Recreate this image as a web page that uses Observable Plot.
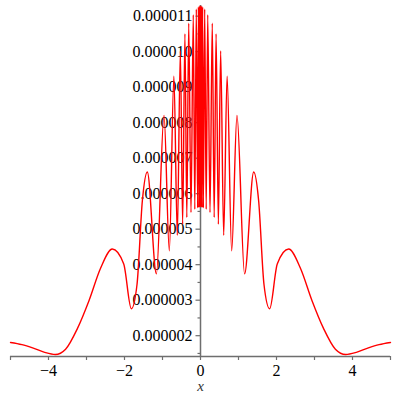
<!DOCTYPE html>
<html>
<head>
<meta charset="utf-8">
<script src="https://cdn.jsdelivr.net/npm/d3@7"></script>
<script src="https://cdn.jsdelivr.net/npm/@observablehq/plot@0.6"></script>
<style>
  html, body { margin: 0; padding: 0; background: #ffffff; }
</style>
</head>
<body>
<div id="chart"></div>
<script>
// Curve points (x, value)
const xValues = [
  -5.00, -4.70, -4.40, -4.10, -3.82, -3.55, -3.24, -2.93, -2.63, -2.32,
  -2.02, -1.82, -1.67, -1.53, -1.40, -1.16, -0.96, -0.82, -0.70, -0.61,
  -0.53, -0.47, -0.41, -0.36, -0.31, -0.25, -0.19, -0.15, -0.11, -0.075,
  -0.055, -0.04, -0.027, -0.015, 0,
  0.015, 0.027, 0.04, 0.055, 0.075, 0.11, 0.15, 0.19, 0.25, 0.31,
  0.36, 0.41, 0.47, 0.53, 0.61, 0.70, 0.82, 0.96, 1.16, 1.40,
  1.53, 1.67, 1.82, 2.02, 2.32, 2.63, 2.93, 3.24, 3.55, 3.82,
  4.10, 4.40, 4.70, 5.00
];
const yValues = [
  1.81e-6, 1.75e-6, 1.65e-6, 1.53e-6, 1.47e-6, 1.62e-6, 2.20e-6, 3.00e-6, 3.90e-6, 4.44e-6,
  4.02e-6, 2.76e-6, 3.45e-6, 5.80e-6, 6.61e-6, 3.74e-6, 8.20e-6, 4.39e-6, 9.31e-6, 4.83e-6,
  10.02e-6, 5.14e-6, 10.50e-6, 5.33e-6, 10.80e-6, 5.47e-6, 11.04e-6, 5.56e-6, 11.20e-6, 5.60e-6,
  11.26e-6, 5.61e-6, 11.29e-6, 5.62e-6, 11.30e-6,
  5.62e-6, 11.29e-6, 5.61e-6, 11.26e-6, 5.60e-6, 11.20e-6, 5.56e-6, 11.04e-6, 5.47e-6, 10.80e-6,
  5.33e-6, 10.50e-6, 5.14e-6, 10.02e-6, 4.83e-6, 9.31e-6, 4.39e-6, 8.20e-6, 3.74e-6, 6.61e-6,
  5.80e-6, 3.45e-6, 2.76e-6, 4.02e-6, 4.44e-6, 3.90e-6, 3.00e-6, 2.20e-6, 1.62e-6, 1.47e-6,
  1.53e-6, 1.65e-6, 1.75e-6, 1.81e-6
];

// Axis ticks
const xTicks = [-5, -4, -3, -2, -1, 0, 1, 2, 3, 4, 5];
const xLabelTicks = [-4, -2, 0, 2, 4];
const yMajorTicks = [2e-6, 3e-6, 4e-6, 5e-6, 6e-6, 7e-6, 8e-6, 9e-6, 10e-6, 11e-6];
const yMinorTicks = [1.5e-6, 2.5e-6, 3.5e-6, 4.5e-6, 5.5e-6, 6.5e-6, 7.5e-6, 8.5e-6, 9.5e-6, 10.5e-6];
const xDomain = [-5, 5];
const yDomain = [1.414e-6, 11.30e-6];

const data = xValues.map((x, i) => ({x, y: yValues[i]}));

const axisColor = "#6e6e6e";
const serif = "'Liberation Serif', 'DejaVu Serif', serif";
const tickLeft = (len) => ({
  draw(ctx) { ctx.moveTo(-len, 0); ctx.lineTo(0, 0); }
});
const fmtY = d3.format(".6f");
const fmtX = d => (d < 0 ? "\u2212" + (-d) : String(d));

const chart = Plot.plot({
  width: 400,
  height: 400,
  marginTop: 5,
  marginBottom: 44,
  marginLeft: 10,
  marginRight: 10,
  style: {fontFamily: serif, fontSize: "16px", background: "#ffffff", color: "#000"},
  x: {domain: xDomain, label: null},
  y: {domain: yDomain, axis: null, label: null},
  marks: [
    Plot.ruleY([yDomain[0]], {stroke: axisColor, strokeWidth: 1.5}),
    Plot.ruleX([0], {stroke: axisColor, strokeWidth: 1.5}),
    Plot.axisX(xTicks, {tickSize: 4, tickPadding: 4, stroke: axisColor, strokeWidth: 1.2, label: null,
      tickFormat: () => ""}),
    Plot.text(xLabelTicks, {x: d => d, frameAnchor: "bottom", dy: 14, text: d => fmtX(d),
      lineAnchor: "middle", fill: "#000", fontSize: 16, fontFamily: serif}),
    Plot.dot(yMajorTicks, {x: () => 0, y: d => d, symbol: tickLeft(5), stroke: axisColor, fill: "none", strokeWidth: 1.2}),
    Plot.dot(yMinorTicks, {x: () => 0, y: d => d, symbol: tickLeft(3), stroke: axisColor, fill: "none", strokeWidth: 1.2}),
    Plot.text(yMajorTicks, {x: () => 0, y: d => d, text: d => fmtY(d), textAnchor: "end", dx: -8,
      lineAnchor: "middle", fill: "#000", fontSize: 16, fontFamily: serif}),
    Plot.text(["x"], {frameAnchor: "bottom", dy: 30, lineAnchor: "middle", fontStyle: "italic", fontSize: 15,
      fill: "#333", fontFamily: serif}),
    Plot.line(data, {x: "x", y: "y", stroke: "#ff0000", strokeWidth: 1.4, curve: "monotone-x"})
  ]
});
document.getElementById("chart").appendChild(chart);
</script>
</body>
</html>
